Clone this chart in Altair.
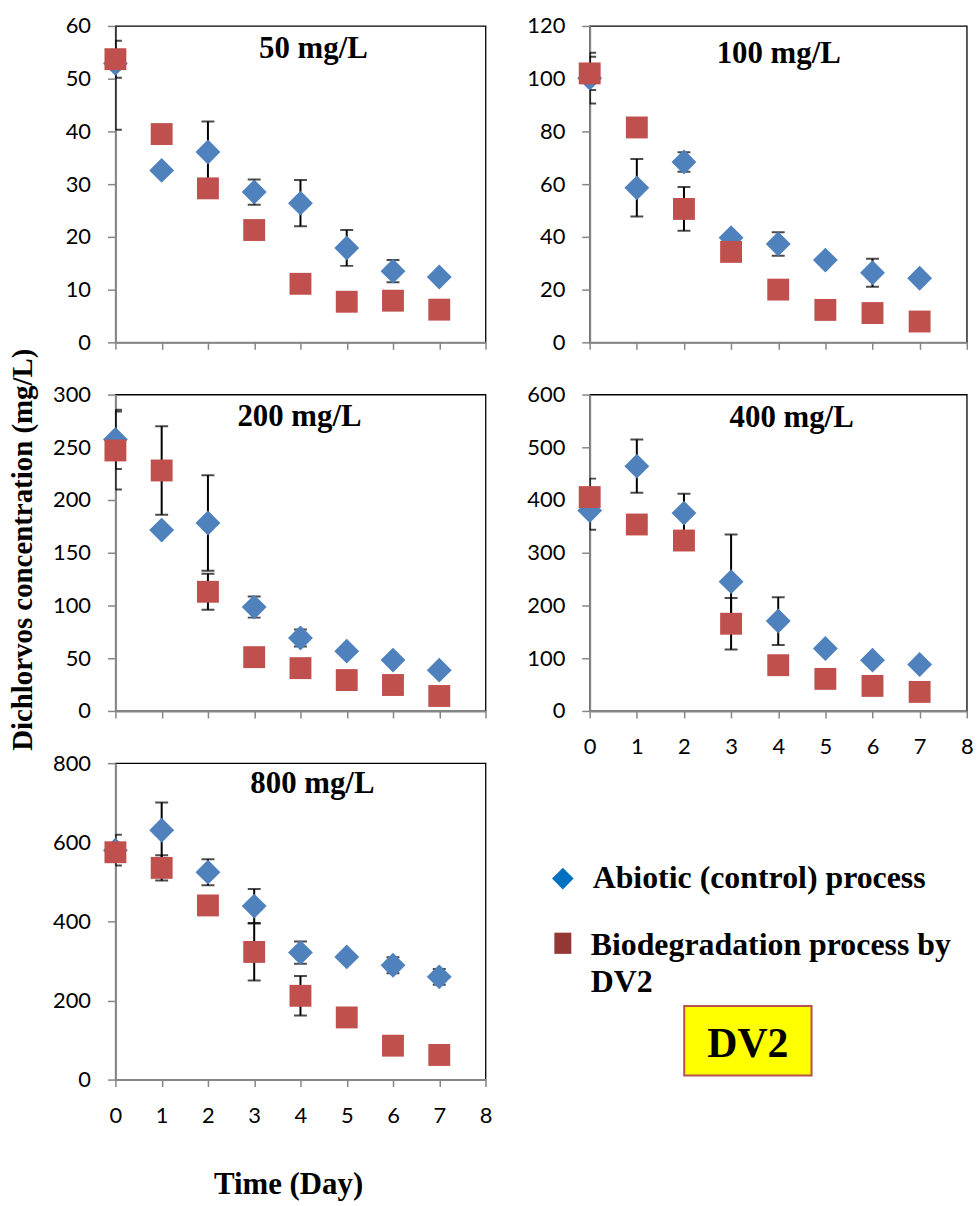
import altair as alt
import pandas as pd

# Sampling days
days = [0, 1, 2, 3, 4, 5, 6, 7]

# Initial dichlorvos concentration of each panel
panel_titles = ["50 mg/L", "100 mg/L", "200 mg/L", "400 mg/L", "800 mg/L"]
y_max = [60, 120, 300, 600, 800]
y_step = [10, 20, 50, 100, 200]

# Abiotic (control) process: mean and standard deviation (mg/L)
abiotic_50 = [52.9, 32.6, 36.1, 28.5, 26.4, 17.9, 13.5, 12.4]
abiotic_50_sd = [12.6, 0, 5.8, 2.4, 4.4, 3.4, 2.1, 0]
abiotic_100 = [100.2, 58.6, 68.4, 39.7, 37.3, 31.2, 26.4, 24.3]
abiotic_100_sd = [9.6, 10.9, 3.7, 0, 4.5, 0, 5.3, 0]
abiotic_200 = [257.5, 171.5, 178.2, 98.5, 69.2, 56.7, 48.2, 38.7]
abiotic_200_sd = [28, 0, 45.3, 10, 8, 0, 0, 0]
abiotic_400 = [380, 464.2, 375.2, 245.2, 170.5, 118.5, 96.3, 88.1]
abiotic_400_sd = [36.5, 50.4, 36.8, 89.4, 45.3, 0, 8, 0]
abiotic_800 = [580, 630.3, 524.4, 438.7, 321, 310.1, 289.1, 259.7]
abiotic_800_sd = [39, 70.6, 33, 43, 28, 0, 20, 20]

# Biodegradation process by DV2: mean and standard deviation (mg/L)
bio_50 = [53.7, 39.5, 29.2, 21.3, 11.1, 7.7, 7.9, 6.2]
bio_50_sd = [3.5, 0, 0, 0, 0, 0, 0, 0]
bio_100 = [102.0, 81.5, 50.6, 34.3, 20.0, 12.3, 11.1, 7.9]
bio_100_sd = [6.3, 0, 8.3, 0, 0, 0, 0, 0]
bio_200 = [247.0, 228.0, 113.0, 51.0, 40.6, 29.3, 24.6, 14.2]
bio_200_sd = [37, 42, 17, 0, 0, 0, 0, 0]
bio_400 = [405.6, 353.6, 323.2, 165.4, 86.8, 60.8, 47.5, 36.1]
bio_400_sd = [35, 0, 0, 48.8, 0, 0, 0, 0]
bio_800 = [574.8, 535.3, 440.3, 322.7, 211.8, 157.1, 85.7, 62.2]
bio_800_sd = [0, 32, 0, 72, 50, 0, 0, 0]

abiotic_means = [abiotic_50, abiotic_100, abiotic_200, abiotic_400, abiotic_800]
abiotic_sds = [abiotic_50_sd, abiotic_100_sd, abiotic_200_sd, abiotic_400_sd, abiotic_800_sd]
bio_means = [bio_50, bio_100, bio_200, bio_400, bio_800]
bio_sds = [bio_50_sd, bio_100_sd, bio_200_sd, bio_400_sd, bio_800_sd]

series_names = ["Abiotic (control) process", "Biodegradation process by\nDV2"]
box_label = "DV2"
x_title = "Time (Day)"
y_title = "Dichlorvos concentration (mg/L)"

BLUE = "#4F81BD"
RED = "#C0504D"
LEGEND_BLUE = "#0070C0"
LEGEND_RED = "#953735"
SERIF = "Liberation Serif"

LEFT_W, RIGHT_W, PANEL_H = 372, 379, 318


def panel(i, width, show_x_labels, title_dx, title_y, extra=()):
    rows = []
    for d, m, s in zip(days, abiotic_means[i], abiotic_sds[i]):
        rows.append({"day": d, "value": m, "sd": s, "series": "abiotic"})
    for d, m, s in zip(days, bio_means[i], bio_sds[i]):
        rows.append({"day": d, "value": m, "sd": s, "series": "bio"})
    df = pd.DataFrame(rows)
    df["lo"] = df["value"] - df["sd"]
    df["hi"] = df["value"] + df["sd"]
    err = df[df["sd"] > 0]
    caps = pd.concat([
        err[["day"]].assign(end=err["lo"]),
        err[["day"]].assign(end=err["hi"]),
    ])

    x = alt.X("day:Q", scale=alt.Scale(domain=[0, 8], nice=False),
              axis=alt.Axis(values=list(range(9)), labels=show_x_labels,
                            title=None, format="d"))
    yscale = alt.Scale(domain=[0, y_max[i]], nice=False)
    yaxis = alt.Axis(values=list(range(0, y_max[i] + 1, y_step[i])),
                     title=None, format="d")

    rules = alt.Chart(err).mark_rule(color="black", strokeWidth=2, clip=True).encode(
        x=x, y=alt.Y("lo:Q", scale=yscale, axis=yaxis), y2="hi:Q")
    ticks = alt.Chart(caps).mark_tick(orient="horizontal", color="black", size=13,
                                      thickness=2, clip=True).encode(
        x=x, y=alt.Y("end:Q", scale=yscale, axis=yaxis))
    blue = alt.Chart(df[df["series"] == "abiotic"]).mark_point(
        shape="diamond", filled=True, size=625, color=BLUE, opacity=1, strokeWidth=0
    ).encode(x=x, y=alt.Y("value:Q", scale=yscale, axis=yaxis))
    red = alt.Chart(df[df["series"] == "bio"]).mark_point(
        shape="square", filled=True, size=484, color=RED, opacity=1, strokeWidth=0
    ).encode(x=x, y=alt.Y("value:Q", scale=yscale, axis=yaxis))
    title = alt.Chart(pd.DataFrame({"t": [panel_titles[i]]})).mark_text(
        font=SERIF, fontWeight="bold", fontSize=31, align="center",
        baseline="alphabetic", color="black"
    ).encode(text="t:N", x=alt.value(title_dx), y=alt.value(title_y))

    return alt.layer(rules, ticks, blue, red, title, *extra).properties(
        width=width, height=PANEL_H)


# Shared axis titles, drawn beside the middle-left and bottom-left panels
y_title_mark = alt.Chart(pd.DataFrame({"t": [y_title]})).mark_text(
    font=SERIF, fontWeight="bold", fontSize=29, angle=270, align="center",
    baseline="middle", color="black"
).encode(text="t:N", x=alt.value(-93), y=alt.value(156))

x_title_mark = alt.Chart(pd.DataFrame({"t": [x_title]})).mark_text(
    font=SERIF, fontWeight="bold", fontSize=31, align="center",
    baseline="alphabetic", color="black"
).encode(text="t:N", x=alt.value(174), y=alt.value(433))

p1 = panel(0, LEFT_W, False, 199, 32)
p2 = panel(1, RIGHT_W, False, 190, 37)
p3 = panel(2, LEFT_W, False, 185, 32, extra=(y_title_mark,))
p4 = panel(3, RIGHT_W, True, 203, 33)
p5 = panel(4, LEFT_W, True, 198, 30, extra=(x_title_mark,))

# Legend cell with the DV2 label box
one = pd.DataFrame({"t": [""]})
leg_diamond = alt.Chart(one).mark_point(
    shape="diamond", filled=True, size=470, color=LEGEND_BLUE, opacity=1, strokeWidth=0
).encode(x=alt.value(-27), y=alt.value(116))
leg_square = alt.Chart(one).mark_point(
    shape="M-0.8,-1H0.8V1H-0.8Z", filled=True, size=454, color=LEGEND_RED,
    opacity=1, strokeWidth=0
).encode(x=alt.value(-27), y=alt.value(181))
leg_text1 = alt.Chart(pd.DataFrame({"t": [series_names[0]]})).mark_text(
    font=SERIF, fontWeight="bold", fontSize=32, align="left", baseline="alphabetic",
    color="black"
).encode(text="t:N", x=alt.value(3), y=alt.value(125))
leg_text2 = alt.Chart(pd.DataFrame({"t": [series_names[1]]})).mark_text(
    font=SERIF, fontWeight="bold", fontSize=32, align="left", baseline="alphabetic",
    color="black", lineBreak="\n", lineHeight=37
).encode(text="t:N", x=alt.value(1), y=alt.value(193))
box = alt.Chart(one).mark_rect(fill="#FFFF00", stroke="#B9514E", strokeWidth=2).encode(
    x=alt.value(95), x2=alt.value(223), y=alt.value(244), y2=alt.value(314))
box_text = alt.Chart(pd.DataFrame({"t": [box_label]})).mark_text(
    font=SERIF, fontWeight="bold", fontSize=42, align="center", baseline="alphabetic",
    color="black"
).encode(text="t:N", x=alt.value(159), y=alt.value(295))

legend_cell = alt.layer(leg_diamond, leg_square, leg_text1, leg_text2, box, box_text).properties(
    width=RIGHT_W, height=PANEL_H,
    view=alt.ViewBackground(stroke="transparent"))

chart = alt.concat(
    p1, p2, p3, p4, p5, legend_cell,
    columns=2, spacing={"row": 52.5, "column": 104.7}, bounds="flush",
).properties(
    padding={"left": 8, "top": 11, "right": 5, "bottom": 5},
    background="white",
).configure_view(
    stroke="black", strokeWidth=1.3
).configure_axis(
    grid=False, domainColor="#868686", domainWidth=2, tickColor="#868686",
    tickWidth=1.5, labelFont="Lato", labelFontSize=22, labelColor="black",
    labelFlush=False,
).configure_axisX(
    tickSize=7, labelPadding=19,
).configure_axisY(
    tickSize=8, labelPadding=17,
)

chart.save("out.html", embed_options={"renderer": "svg", "actions": False})
